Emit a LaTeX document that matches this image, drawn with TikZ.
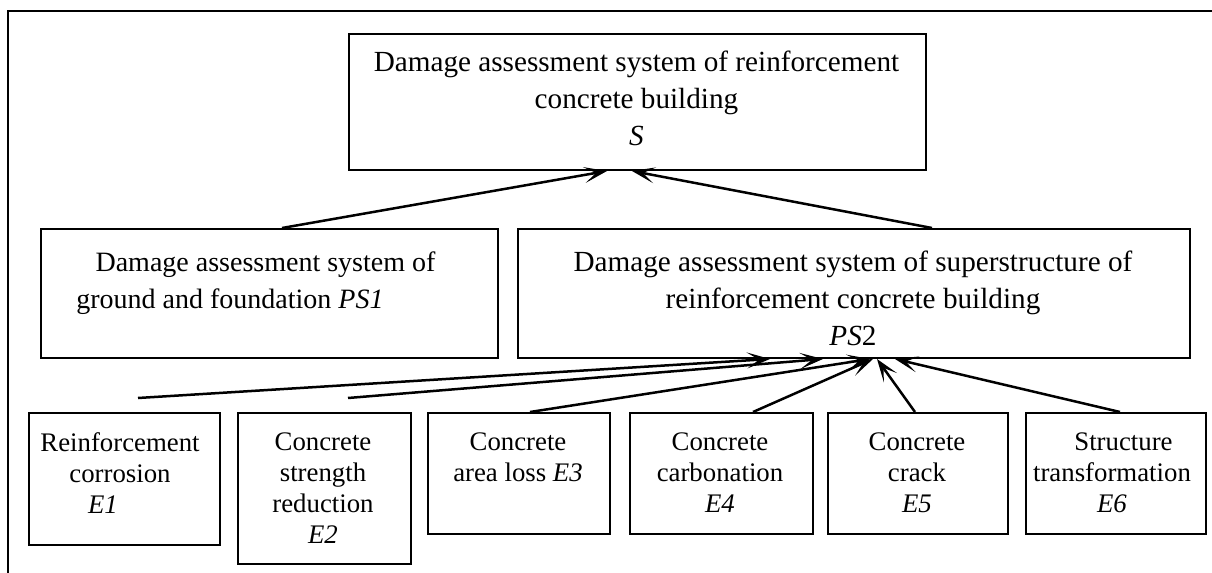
\documentclass[tikz,border=0pt]{standalone}
\usepackage{fontspec}
\setmainfont{Liberation Serif}
\usetikzlibrary{arrows.meta}
\begin{document}
\begin{tikzpicture}[x=0.5pt,y=-0.5pt,
  box/.style={draw,line width=1pt,inner sep=0,anchor=north west},
  big/.style={font=\fontsize{14.6}{18.5}\selectfont,align=center,inner sep=0,anchor=north},
  small/.style={font=\fontsize{13.4}{15.5}\selectfont,align=center,inner sep=0,anchor=north},
  arr/.style={line width=1.25pt,-{Stealth[length=11.5pt,width=8pt,inset=6pt]}}]
\useasboundingbox (0,0) rectangle (1212,573);
\draw[line width=1.1pt] (8,573) -- (8,11) -- (1212,11);
% boxes
\node[box,minimum width=288.5pt,minimum height=68pt] (s) at (348,33) {};
\node[box,minimum width=228.5pt,minimum height=64.5pt] (ps1) at (40,228) {};
\node[box,minimum width=336pt,minimum height=64.5pt] (ps2) at (517,228) {};
\node[box,minimum width=95.5pt,minimum height=66pt] (e1) at (28,412) {};
\node[box,minimum width=86.5pt,minimum height=75.5pt] (e2) at (237,412) {};
\node[box,minimum width=91pt,minimum height=60.5pt] (e3) at (427,412) {};
\node[box,minimum width=91.5pt,minimum height=60.5pt] (e4) at (629,412) {};
\node[box,minimum width=90pt,minimum height=60.5pt] (e5) at (827,412) {};
\node[box,minimum width=90pt,minimum height=60.5pt] (e6) at (1025,412) {};
% texts
\node[big] (st) at (636.5,51) {Damage assessment system of reinforcement\\concrete building\\\textit{S}};
\node[big,font=\fontsize{14}{18.5}\selectfont] (ps1t) at (230,251) {\hspace*{35.5pt}Damage assessment system of\\ground and foundation \textit{PS1}};
\node[big] (ps2t) at (853,251) {Damage assessment system of superstructure of\\reinforcement concrete building\\\textit{PS}2};
\node[small] (e1t) at (120,432) {Reinforcement\\corrosion\\\textit{E1}\hspace*{17pt}};
\node[small] (e2t) at (323,432) {Concrete\\strength\\reduction\\\textit{E2}};
\node[small] (e3t) at (518,432) {Concrete\\area loss \textit{E3}};
\node[small] (e4t) at (720,432) {Concrete\\carbonation\\\textit{E4}};
\node[small] (e5t) at (917,432) {Concrete\\crack\\\textit{E5}};
\node[small] (e6t) at (1112,432) {\hspace*{11.5pt}Structure\\transformation\\\textit{E6}};
% free start points
\coordinate (e1s) at (138,398);
\coordinate (e2s) at (348,398);
% connectors
\draw[arr] ([shift={(242,0)}]ps1.north west) -- ([shift={(259,0)}]s.south west);
\draw[arr] ([shift={(415,0)}]ps2.north west) -- ([shift={(284,0)}]s.south west);
\draw[arr] (e1s) -- ([shift={(253,0)}]ps2.south west);
\draw[arr] (e2s) -- ([shift={(306,0)}]ps2.south west);
\draw[arr] ([shift={(103,0)}]e3.north west) -- ([shift={(353,0)}]ps2.south west);
\draw[arr] ([shift={(124,0)}]e4.north west) -- ([shift={(356,0)}]ps2.south west);
\draw[arr] ([shift={(88,0)}]e5.north west) -- ([shift={(360,0)}]ps2.south west);
\draw[arr] ([shift={(95,0)}]e6.north west) -- ([shift={(378,0)}]ps2.south west);
\end{tikzpicture}
\end{document}
